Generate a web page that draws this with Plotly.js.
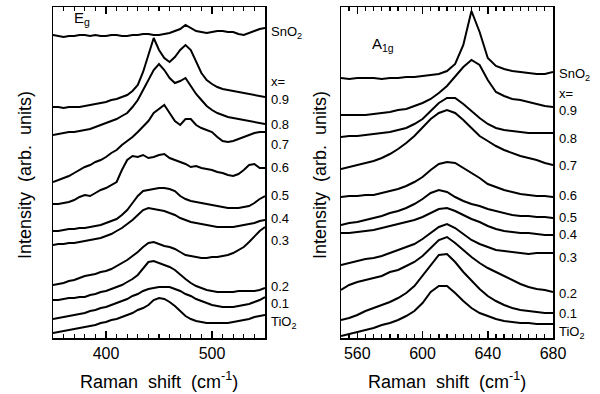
<!DOCTYPE html>
<html>
<head>
<meta charset="utf-8">
<script src="https://cdn.plot.ly/plotly-3.0.1.min.js"></script>
<style>html,body{margin:0;padding:0;background:#fff;}#chart{width:600px;height:394px;}</style>
</head>
<body>
<div id="chart"></div>
<script>
// ---- Data (offset spectra; intensity axis drawn top-down, arbitrary units) ----
const xEg = [350,355,360,365,370,375,380,385,390,395,400,405,410,415,420,425,430,435,440,445,450,455,460,465,470,475,480,485,490,495,500,505,510,515,520,525,530,535,540,545,550];
const eg_SnO2 = [35,36,37,36,36,35,35,36,35,36,36,35,35,36,36,35,35,34,34,35,35,34,33,31,29,25,28,31,32,33,32,31,31,32,32,34,35,33,31,29,28];
const eg_09 = [107,107,108,107,107,107,106,105,104,103,102,100,99,97,95,91,85,72,55,38,50,58,62,57,50,45,50,62,73,80,84,87,89,90,91,92,93,94,95,96,97];
const eg_08 = [135,134,133,132,132,131,130,129,127,125,123,121,119,116,113,107,100,90,80,70,64,70,78,83,81,78,86,94,100,106,110,113,115,117,118,119,120,121,122,123,124];
const eg_07 = [182,180,178,176,173,170,167,165,162,160,157,153,150,145,141,137,132,127,121,113,109,105,113,121,125,119,119,125,128,130,132,137,141,142,141,139,137,135,133,132,132];
const eg_06 = [204,204,203,202,200,197,195,196,193,190,188,185,182,170,160,156,157,155,158,157,155,154,158,160,162,164,167,166,168,169,170,172,173,175,176,174,170,165,164,168,168];
const eg_05 = [231,231,230,229,229,228,228,227,226,225,223,221,219,215,210,203,196,191,190,189,188,188,189,191,196,199,201,202,203,204,205,206,207,208,208,208,207,206,203,199,196];
const eg_04 = [245,244,244,243,243,242,241,240,239,238,236,234,231,228,224,220,215,210,208,209,210,211,213,215,218,220,222,223,224,225,226,227,227,227,227,226,225,224,223,221,220];
const eg_03 = [285,284,283,281,280,278,276,275,274,272,271,269,266,263,260,256,252,247,243,242,244,246,247,249,252,255,256,257,258,258,257,257,256,255,253,250,247,242,236,231,227];
const eg_02 = [300,300,299,298,298,297,297,295,294,292,291,289,287,285,282,279,275,268,262,261,263,265,267,270,275,279,283,286,288,290,291,292,292,292,292,291,291,291,291,290,288];
const eg_01 = [319,318,317,316,315,314,313,311,310,308,307,305,303,301,299,296,294,291,289,288,287,287,287,289,291,294,296,299,301,303,305,306,307,307,307,306,305,304,302,300,297];
const eg_TiO2 = [333,332,331,330,329,328,327,326,325,323,322,320,319,317,315,313,310,308,305,300,298,299,302,306,311,316,319,321,322,323,323,323,323,323,322,321,320,319,317,316,315];

const xA1g = [550,555,560,565,570,575,580,585,590,595,600,605,610,615,620,625,630,635,640,645,650,655,660,665,670,675,680];
const a1g_SnO2 = [78,79,78,78,78,79,78,78,77,77,76,75,74,71,64,45,11,32,58,66,69,71,72,73,74,74,72];
const a1g_09 = [115,115,115,115,114,113,112,110,109,106,103,99,93,86,77,67,60,65,80,92,96,99,100,102,104,106,107];
const a1g_08 = [137,136,136,135,134,133,132,130,128,124,119,111,103,98,98,104,111,118,124,128,130,131,132,133,133,133,133];
const a1g_07 = [169,167,165,163,161,158,154,149,143,136,128,119,113,110,113,120,128,136,141,146,150,153,156,158,160,163,165];
const a1g_06 = [197,196,196,195,195,193,191,189,186,182,177,170,164,162,163,168,173,178,184,187,190,192,194,195,196,196,197];
const a1g_05 = [225,223,222,220,218,216,213,211,208,204,199,193,190,192,197,201,204,206,209,211,213,215,216,216,217,217,218];
const a1g_04 = [233,233,232,231,230,228,226,224,222,220,217,213,209,208,211,215,219,222,226,229,231,232,233,233,234,235,235];
const a1g_03 = [265,263,261,259,258,256,253,250,247,244,239,233,227,224,228,234,240,244,247,250,251,252,253,254,253,253,253];
const a1g_02 = [290,285,282,280,278,276,272,270,266,262,256,248,240,237,243,250,257,263,268,272,276,280,284,287,289,290,292];
const a1g_01 = [320,318,315,311,308,305,302,298,293,286,276,265,255,254,262,272,281,289,296,301,305,308,310,311,312,313,313];
const a1g_TiO2 = [336,334,332,330,328,325,323,320,316,311,303,292,286,286,293,301,308,313,316,319,321,322,323,323,324,324,324];

const seriesNames = ['SnO<sub>2</sub>','0.9','0.8','0.7','0.6','0.5','0.4','0.3','0.2','0.1','TiO<sub>2</sub>'];
const egSeries = [eg_SnO2,eg_09,eg_08,eg_07,eg_06,eg_05,eg_04,eg_03,eg_02,eg_01,eg_TiO2];
const a1gSeries = [a1g_SnO2,a1g_09,a1g_08,a1g_07,a1g_06,a1g_05,a1g_04,a1g_03,a1g_02,a1g_01,a1g_TiO2];

// tick labels and minor-tick spacing
const egTickVals = [400, 500];
const a1gTickVals = [560, 600, 640, 680];
const egMinorStep = 10;
const a1gMinorStep = 5;

// label texts (right of each panel)
const egLabels = ['SnO<sub>2</sub>','x=','0.9','0.8','0.7','0.6','0.5','0.4','0.3','0.2','0.1','TiO<sub>2</sub>'];
const egLabelY = [33,81,99,124,144,168,195,219,240,286,303,322];
const a1gLabels = ['SnO<sub>2</sub>','x=','0.9','0.8','0.7','0.6','0.5','0.4','0.3','0.2','0.1','TiO<sub>2</sub>'];
const a1gLabelY = [74,93,110,138,165,195,217,234,257,293,313,332];

// ---- Plot ----
const W = 600, H = 394;
const FONT = 'Liberation Sans, Arial, Helvetica, sans-serif';
const traces = [];
egSeries.forEach((ys, i) => traces.push({x: xEg, y: ys, xaxis: 'x', yaxis: 'y', mode: 'lines', name: seriesNames[i],
  line: {color: '#000', width: 2}, showlegend: false, hoverinfo: 'skip'}));
a1gSeries.forEach((ys, i) => traces.push({x: xA1g, y: ys, xaxis: 'x2', yaxis: 'y2', mode: 'lines', name: seriesNames[i],
  line: {color: '#000', width: 2}, showlegend: false, hoverinfo: 'skip'}));

const yDom = [1 - 338 / H, 1 - 7 / H];
const xBase = {tickmode: 'array', ticks: 'inside', ticklen: 7, tickwidth: 1.5, tickcolor: '#000', mirror: 'allticks', showline: true,
  linecolor: '#000', linewidth: 1.5, showgrid: false, zeroline: false, tickfont: {size: 16, color: '#000', family: FONT}};
const yBase = {showticklabels: false, ticks: '', showline: true, mirror: true, linecolor: '#000', linewidth: 1.5,
  showgrid: false, zeroline: false, range: [338, 7], domain: yDom};

const ann = [];
const sp = '\u00A0';
egLabels.forEach((t, i) => ann.push({text: t, x: 269 / W, y: 1 - egLabelY[i] / H, xref: 'paper', yref: 'paper',
  xanchor: 'left', yanchor: 'middle', showarrow: false, font: {size: 13, color: '#000', family: FONT}}));
a1gLabels.forEach((t, i) => ann.push({text: t, x: 557 / W, y: 1 - a1gLabelY[i] / H, xref: 'paper', yref: 'paper',
  xanchor: 'left', yanchor: 'middle', showarrow: false, font: {size: 13, color: '#000', family: FONT}}));
[159, 447].forEach(px => ann.push({text: 'Raman' + sp + sp + 'shift' + sp + sp + '(cm<sup>-1</sup>)', x: px / W, y: 1 - 380 / H,
  xref: 'paper', yref: 'paper', xanchor: 'center', yanchor: 'middle', showarrow: false, font: {size: 18, color: '#000', family: FONT}}));
[25, 320].forEach(px => ann.push({text: 'Intensity' + sp + sp + '(arb.' + sp + sp + 'units)', x: px / W, y: 1 - 175 / H,
  xref: 'paper', yref: 'paper', xanchor: 'center', yanchor: 'middle', textangle: -90, showarrow: false,
  font: {size: 18, color: '#000', family: FONT}}));
ann.push({text: 'E<sub>g</sub>', x: 72 / W, y: 1 - 19 / H, xref: 'paper', yref: 'paper', xanchor: 'left', yanchor: 'middle',
  showarrow: false, font: {size: 15, color: '#000', family: FONT}});
ann.push({text: 'A<sub>1g</sub>', x: 370 / W, y: 1 - 45 / H, xref: 'paper', yref: 'paper', xanchor: 'left', yanchor: 'middle',
  showarrow: false, font: {size: 15, color: '#000', family: FONT}});

const layout = {
  width: W, height: H, margin: {l: 0, r: 0, t: 0, b: 0}, paper_bgcolor: '#fff', plot_bgcolor: '#fff',
  font: {family: FONT, color: '#000'},
  xaxis: Object.assign({}, xBase, {domain: [53 / W, 265 / W], anchor: 'y', range: [350, 550], tickvals: egTickVals,
    minor: {tickmode: 'linear', tick0: 350, dtick: egMinorStep, ticks: 'inside', ticklen: 4, tickwidth: 1.3, tickcolor: '#000', showgrid: false}}),
  yaxis: Object.assign({}, yBase, {anchor: 'x'}),
  xaxis2: Object.assign({}, xBase, {domain: [341 / W, 553 / W], anchor: 'y2', range: [550, 680], tickvals: a1gTickVals,
    minor: {tickmode: 'linear', tick0: 550, dtick: a1gMinorStep, ticks: 'inside', ticklen: 4, tickwidth: 1.3, tickcolor: '#000', showgrid: false}}),
  yaxis2: Object.assign({}, yBase, {anchor: 'x2'}),
  annotations: ann
};
Plotly.newPlot('chart', traces, layout, {staticPlot: true, displayModeBar: false});
</script>
</body>
</html>
